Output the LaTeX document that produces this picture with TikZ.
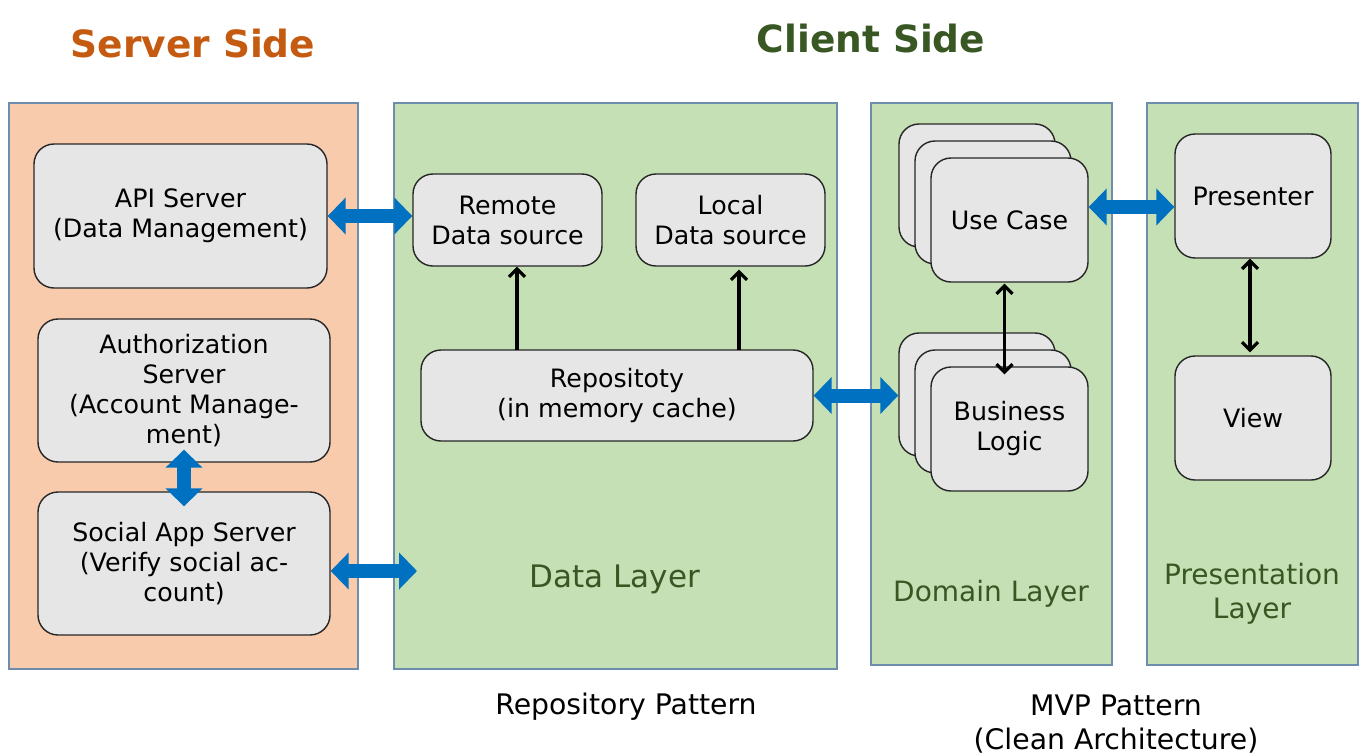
\documentclass[tikz,border=0pt]{standalone}
\usepackage{fontspec}
\setmainfont{DejaVu Sans}
\usetikzlibrary{arrows.meta,calc}
\definecolor{srvfill}{HTML}{F8CBAD}
\definecolor{grnfill}{HTML}{C5E0B4}
\definecolor{panelline}{HTML}{6E8DAE}
\definecolor{nodefill}{HTML}{E6E6E6}
\definecolor{orangetitle}{HTML}{C55A11}
\definecolor{greentitle}{HTML}{385723}
\definecolor{blockblue}{HTML}{0070C0}
\tikzset{
  panel/.style={draw=panelline, line width=1.3pt, inner sep=0pt},
  box/.style={draw=black!85, line width=1.4pt, fill=nodefill, rounded corners=20pt,
    align=center, inner sep=0pt, font=\fontsize{25.3}{30}\selectfont},
  blockarrow/.style={blockblue, line width=14pt,
    {Triangle[length=18pt,width=36pt]}-{Triangle[length=18pt,width=36pt]}},
  thinarrow/.style={black, line width=3.2pt, -{Straight Barb[length=8pt,width=16pt]}},
  thinboth/.style={black, line width=3.2pt, {Straight Barb[length=8pt,width=16pt]}-{Straight Barb[length=8pt,width=16pt]}},
  title/.style={font=\fontsize{37.5}{40}\selectfont\bfseries},
  layerlabel/.style={text=greentitle, align=center},
  caption/.style={align=center, font=\fontsize{28.3}{34}\selectfont}
}
\begin{document}
\begin{tikzpicture}[x=1pt,y=-1pt]
\useasboundingbox (0,0) rectangle (1372,755);
% panels
\node[panel, fill=srvfill, minimum width=349pt, minimum height=566pt] (srv) at (183.5,386) {};
\node[panel, fill=grnfill, minimum width=443pt, minimum height=566pt] (data) at (615.5,386) {};
\node[panel, fill=grnfill, minimum width=241pt, minimum height=562pt] (dom) at (991.5,384) {};
\node[panel, fill=grnfill, minimum width=211pt, minimum height=562pt] (prs) at (1252.5,384) {};
% titles
\node[title, text=orangetitle] (tsrv) at (193,44) {Server Side};
\node[title, text=greentitle] (tcli) at (871,39) {Client Side};
% server nodes
\node[box, minimum width=293pt, minimum height=144pt] (api) at (180.5,216) {API Server\\(Data Management)};
\node[box, minimum width=292pt, minimum height=143pt] (auth) at (184,390.5) {Authorization\\Server\\(Account Manage-\\ment)};
\node[box, minimum width=292pt, minimum height=143pt] (social) at (184,563.5) {Social App Server\\(Verify social ac-\\count)};
% data layer
\node[box, minimum width=189pt, minimum height=92pt] (remote) at (507.5,220) {Remote\\Data source};
\node[box, minimum width=189pt, minimum height=92pt] (local) at (730.5,220) {Local\\Data source};
\node[box, minimum width=392pt, minimum height=91pt] (repo) at (617,395.5) {Repositoty\\(in memory cache)};
\node[layerlabel, font=\fontsize{31}{36}\selectfont] (dl) at (615,579) {Data Layer};
% domain layer
\node[box, minimum width=156pt, minimum height=123pt] (uc1) at (977,185.5) {};
\node[box, minimum width=156pt, minimum height=123pt] (uc2) at (993,202.5) {};
\node[box, minimum width=157pt, minimum height=124pt] (uc) at (1009.5,220) {Use Case};
\node[box, minimum width=156pt, minimum height=123pt] (bl1) at (977,394.5) {};
\node[box, minimum width=156pt, minimum height=123pt] (bl2) at (993,411.5) {};
\node[box, minimum width=157pt, minimum height=124pt] (bl) at (1009.5,429) {Business\\Logic};
\node[layerlabel, font=\fontsize{28}{34}\selectfont] (doml) at (991,594) {Domain Layer};
% presentation layer
\node[box, minimum width=156pt, minimum height=124pt] (pres) at (1253,196) {Presenter};
\node[box, minimum width=156pt, minimum height=124pt] (view) at (1253,418) {View};
\node[layerlabel, font=\fontsize{28}{34}\selectfont] (prl) at (1252,594) {Presentation\\Layer};
% captions
\node[caption] (cap1) at (626,707) {Repository Pattern};
\node[caption] (cap2) at (1116,724) {MVP Pattern\\(Clean Architecture)};
% coordinates
\coordinate (dlin) at (417,571);
\coordinate (ucp) at (1130,207);
\coordinate (ra) at (517,350);
\coordinate (la) at (739,350);
% block arrows
\draw[blockarrow] (api.east) -- (api.east -| remote.west);
\draw[blockarrow] (social.east |- dlin) -- (dlin);
\draw[blockarrow] (repo.east) -- (repo.east -| bl1.west);
\draw[blockarrow] (uc.east |- ucp) -- (pres.west |- ucp);
\draw[blockarrow] ($(auth.south)+(0,-13)$) -- ($(social.north)+(0,15)$);
% thin arrows
\draw[thinarrow] (ra) -- (ra |- remote.south);
\draw[thinarrow] (la) -- ($(la |- local.south)+(0,3)$);
\draw[thinboth] ($(uc.south)+(-5,1)$) -- ($(bl.north)+(-5,8)$);
\draw[thinboth] ($(pres.south)+(-3,0)$) -- ($(view.north)+(-3,-3)$);
\end{tikzpicture}
\end{document}
